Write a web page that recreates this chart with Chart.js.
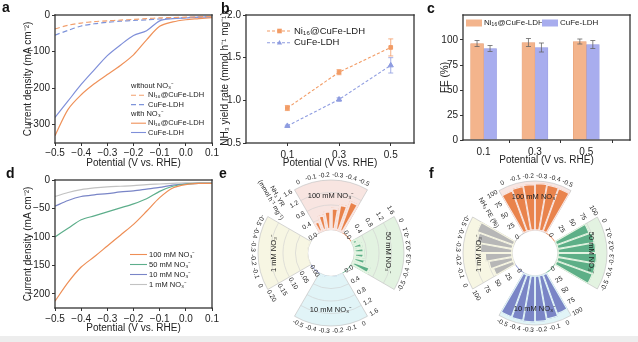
<!DOCTYPE html>
<html>
<head>
<meta charset="utf-8">
<title>Nitrate reduction on Ni@CuFe-LDH</title>
<script src="https://cdn.jsdelivr.net/npm/chart.js@4.4.1/dist/chart.umd.min.js"></script>
<style>
  body { margin: 0; width: 638px; height: 342px; position: relative; overflow: hidden; background: #fff; }
  canvas { position: absolute; }
  .tag { position: absolute; font: bold 14px "Liberation Sans", Arial, sans-serif; line-height: 14px; color: #111; }
  .strip { position: absolute; left: 0; top: 336px; width: 638px; height: 6px; background: #ededed; }
</style>
</head>
<body>
<canvas id="ca" width="222" height="170" style="left:0;top:0"></canvas>
<canvas id="cb" width="212" height="170" style="left:214px;top:0"></canvas>
<canvas id="cc" width="210" height="167" style="left:428px;top:0"></canvas>
<canvas id="cd" width="222" height="170" style="left:0;top:165px"></canvas>
<canvas id="ce" width="208" height="172" style="left:212px;top:165px"></canvas>
<canvas id="cf" width="214" height="172" style="left:424px;top:165px"></canvas>
<div class="tag" style="left:2px;top:0">a</div>
<div class="tag" style="left:221px;top:1px">b</div>
<div class="tag" style="left:427px;top:1px">c</div>
<div class="tag" style="left:6px;top:166px">d</div>
<div class="tag" style="left:219px;top:166px">e</div>
<div class="tag" style="left:429px;top:166px">f</div>
<div class="strip"></div>
<script>
var FONT = '"Liberation Sans", Arial, sans-serif';
var INK = '#222';

// LSV potentials (V vs. RHE), shared by panels a and d
var potLSV = [-0.5, -0.45, -0.4, -0.35, -0.3, -0.25, -0.2, -0.15, -0.1, -0.05, 0, 0.05, 0.1];
// panel a: current density (mA cm-2), without / with nitrate
var jNiBlank = [-38, -28, -22, -18, -16, -14, -12, -10, -8, -7, -6, -5, -4];
var jCuBlank = [-55, -42, -30, -24, -20, -17, -15, -13, -11, -9, -7, -6, -5];
var jNiNitrate = [-330, -258, -218, -188, -163, -138, -109, -68, -31, -19, -13, -10, -7];
var jCuNitrate = [-280, -235, -190, -150, -111, -82, -56, -43, -16, -10, -8, -6, -5];
// panel d: Ni@CuFe-LDH at four nitrate concentrations
var j100 = [-213, -180, -153, -135, -116, -97, -78, -55, -31, -14, -8, -6, -6];
var j50 = [-100, -85, -70, -63, -56, -49, -42, -33, -20, -11, -7, -6, -6];
var j10 = [-46, -36, -29, -26, -24, -21, -19, -16, -13, -9, -7, -6, -6];
var j1 = [-29, -22, -17, -14, -12, -11, -10, -8, -7, -6, -5, -5, -5];
var ticksLSV = [-0.5, -0.4, -0.3, -0.2, -0.1, 0, 0.1];
var ticksA = [0, -100, -200, -300];
var ticksD = [0, -50, -100, -150, -200];

// panels b and c
var potBulk = [0.1, 0.3, 0.5];
var yrNi = [0.91, 1.33, 1.62], yrNiErr = [0.03, 0.03, 0.10];
var yrCu = [0.70, 1.01, 1.41], yrCuErr = [0.01, 0.02, 0.09];
var feNi = [96.5, 97.5, 98.5], feNiErr = [3, 4, 2.5];
var feCu = [91.5, 92.5, 95.5], feCuErr = [3, 4.5, 4];
var ticksB = [0.5, 1.0, 1.5, 2.0];
var ticksC = [0, 25, 50, 75, 100];

// panels e and f: one wedge per nitrate level, bars from 0 to -0.5 V
var rosePot = ['0', '-0.1', '-0.2', '-0.3', '-0.4', '-0.5'];
var roseNames = ['100 mM NO₃⁻', '50 mM NO₃⁻', '10 mM NO₃⁻', '1 mM NO₃⁻'];
var yr100 = [0.38, 0.52, 0.62, 0.72, 0.86, 1.05];
var yr50 = [0.20, 0.30, 0.34, 0.34, 0.40, 0.62];
var yr10 = [0.02, 0.03, 0.03, 0.04, 0.05, 0.06];
var yr1 = [0.002, 0.003, 0.003, 0.004, 0.004, 0.005];
var fe100 = [89, 92, 94, 96, 95, 94];
var fe50 = [72, 77, 78, 80, 80, 79];
var fe10 = [86, 91, 94, 95, 94, 93];
var fe1 = [45, 50, 56, 66, 75, 80];
var yrRing = ['0.0', '0.4', '0.8', '1.2', '1.6'];
var yrRingLow = ['0.00', '0.05', '0.10', '0.15', '0.20'];
var feRing = ['0', '25', '50', '75', '100'];

var ORANGE = '#EF9159', BLUE = '#7F8FD9';
var TINTS = ['#F8E5E1', '#E3F3E1', '#E1F4F7', '#F7F6E3'];
var ROSE = ['#E9834C', '#5DAF87', '#7A85C6', '#B7B7B7'];

Chart.defaults.font.family = FONT;
Chart.defaults.font.size = 10;
Chart.defaults.color = INK;
Chart.defaults.animation = false;
Chart.defaults.events = [];
Chart.defaults.plugins.legend.display = false;
Chart.defaults.plugins.tooltip.enabled = false;

function pts(xs, ys) {
  return xs.map(function(x, i) { return {x: x, y: ys[i]}; });
}
function num(v, d) {
  return (v < 0 ? '−' : '') + Math.abs(v).toFixed(d);
}
function fixTicks(list) {
  return function(s) { s.ticks = list.map(function(v) { return {value: v}; }); };
}

function xAxis(min, max, ticks, pad) {
  return {
    type: 'linear', min: min, max: max, offset: false,
    afterBuildTicks: fixTicks(ticks),
    ticks: {callback: function(v) { return num(v, 1); }, maxRotation: 0, autoSkip: false, padding: pad},
    grid: {drawOnChartArea: false, tickLength: 3, color: '#333'},
    border: {display: false},
    title: {display: true, text: 'Potential (V vs. RHE)', padding: {top: 0, bottom: 1}},
    afterFit: function(s) { s.height = 27; }
  };
}
function yAxis(min, max, ticks, dec, title, width) {
  return {
    type: 'linear', min: min, max: max,
    afterBuildTicks: fixTicks(ticks),
    ticks: {callback: function(v) { return num(v, dec); }, padding: 2},
    grid: {drawOnChartArea: false, tickLength: 3, color: '#333'},
    border: {display: false},
    title: {display: true, text: title, padding: {top: 2, bottom: 0}},
    afterFit: function(s) { s.width = width; }
  };
}

// box around the plot area, drawn as four thin filled strips
var frame = {
  id: 'frame',
  afterDraw: function(chart) {
    var a = chart.chartArea, c = chart.ctx, w = 1.3;
    var l = Math.round(a.left), t = Math.round(a.top), r = Math.round(a.right), b = Math.round(a.bottom);
    c.save();
    c.fillStyle = '#333';
    c.fillRect(l - w / 2, t - w / 2, r - l + w, w);
    c.fillRect(l - w / 2, b - w / 2, r - l + w, w);
    c.fillRect(l - w / 2, t - w / 2, w, b - t + w);
    c.fillRect(r - w / 2, t - w / 2, w, b - t + w);
    c.restore();
  }
};

// error bars from dataset.errors
function errPlugin(color) {
  return {
    id: 'errs',
    afterDatasetsDraw: function(chart) {
      var c = chart.ctx;
      c.save();
      c.setLineDash([]);
      c.lineWidth = 0.8;
      chart.data.datasets.forEach(function(ds, di) {
        if (!ds.errors) return;
        var meta = chart.getDatasetMeta(di), ys = chart.scales[meta.yAxisID];
        c.strokeStyle = color || ds.borderColor;
        meta.data.forEach(function(el, i) {
          var v = ds.data[i].y, e = ds.errors[i];
          var t = ys.getPixelForValue(v + e), b = ys.getPixelForValue(v - e);
          c.beginPath();
          c.moveTo(el.x, t); c.lineTo(el.x, b);
          c.moveTo(el.x - 2.5, t); c.lineTo(el.x + 2.5, t);
          c.moveTo(el.x - 2.5, b); c.lineTo(el.x + 2.5, b);
          c.stroke();
        });
      });
      c.restore();
    }
  };
}

// in-plot key; rows with ds === null are plain headings
function keyPlugin(cfg) {
  return {
    id: 'key',
    afterDraw: function(chart) {
      var c = chart.ctx;
      c.save();
      c.font = cfg.size + 'px ' + FONT;
      c.textBaseline = 'middle';
      cfg.rows.forEach(function(row, i) {
        var x = cfg.x + (row.dx || 0), y = cfg.y + (row.dy !== undefined ? row.dy : i * cfg.gap);
        if (row.ds === null) {
          c.fillStyle = INK;
          c.fillText(row.text, x, y);
          return;
        }
        var ds = chart.data.datasets[row.ds];
        if (cfg.box) {
          c.fillStyle = ds.backgroundColor;
          c.fillRect(x, y - 3.5, cfg.len, 7);
        } else {
          c.strokeStyle = ds.borderColor;
          c.lineWidth = 1.1;
          c.setLineDash(ds.borderDash || []);
          c.beginPath(); c.moveTo(x, y); c.lineTo(x + cfg.len, y); c.stroke();
          c.setLineDash([]);
          if (ds.pointStyle) {
            var mx = x + cfg.len / 2;
            c.fillStyle = ds.borderColor;
            c.beginPath();
            if (ds.pointStyle === 'rect') c.rect(mx - 2.3, y - 2.3, 4.6, 4.6);
            else { c.moveTo(mx, y - 2.8); c.lineTo(mx + 2.6, y + 1.9); c.lineTo(mx - 2.6, y + 1.9); c.closePath(); }
            c.fill();
          }
        }
        c.fillStyle = INK;
        c.fillText(ds.label, x + cfg.len + 2, y);
      });
      c.restore();
    }
  };
}

// panel a
new Chart(document.getElementById('ca'), {
  type: 'line',
  data: {datasets: [
    {label: 'Ni₁₆@CuFe-LDH', data: pts(potLSV, jNiBlank), borderColor: '#F2A06E', borderDash: [5, 3]},
    {label: 'CuFe-LDH', data: pts(potLSV, jCuBlank), borderColor: '#7E94DA', borderDash: [5, 3]},
    {label: 'Ni₁₆@CuFe-LDH', data: pts(potLSV, jNiNitrate), borderColor: ORANGE},
    {label: 'CuFe-LDH', data: pts(potLSV, jCuNitrate), borderColor: BLUE}
  ]},
  options: {
    responsive: false,
    layout: {padding: {top: 15, right: 10, left: 20}},
    elements: {point: {radius: 0}, line: {borderWidth: 1.2, tension: 0.3}},
    scales: {
      x: xAxis(-0.5, 0.1, ticksLSV, 1),
      y: yAxis(-350, 0, ticksA, 0, 'Current density (mA cm⁻²)', 35)
    }
  },
  plugins: [frame, keyPlugin({x: 131, y: 86, gap: 9.3, len: 15, size: 7.5, rows: [
    {ds: null, text: 'without NO₃⁻'}, {ds: 0}, {ds: 1},
    {ds: null, text: 'with NO₃⁻'}, {ds: 2}, {ds: 3}
  ]})]
});

// panel b
new Chart(document.getElementById('cb'), {
  type: 'line',
  data: {datasets: [
    {label: 'Ni₁₆@CuFe-LDH', data: pts(potBulk, yrNi), errors: yrNiErr, borderColor: '#F29C66',
      backgroundColor: '#F29C66', pointStyle: 'rect', pointRadius: 2.6, borderDash: [3, 2]},
    {label: 'CuFe-LDH', data: pts(potBulk, yrCu), errors: yrCuErr, borderColor: '#8E9CE0',
      backgroundColor: '#8E9CE0', pointStyle: 'triangle', pointRadius: 3, borderDash: [3, 2]}
  ]},
  options: {
    responsive: false,
    layout: {padding: {top: 15, right: 12, left: 3}},
    elements: {line: {borderWidth: 1.1}},
    scales: {
      x: xAxis(-0.06, 0.59, potBulk, 3),
      y: yAxis(0.5, 2.0, ticksB, 1, 'NH₃ yield rate (mmol h⁻¹ mg⁻¹)', 29)
    }
  },
  plugins: [frame, errPlugin(), keyPlugin({x: 53, y: 31, gap: 11.7, len: 25, size: 9.5, rows: [{ds: 0}, {ds: 1}]})]
});

// panel c
new Chart(document.getElementById('cc'), {
  type: 'bar',
  data: {datasets: [
    {label: 'Ni₁₆@CuFe-LDH', data: pts(potBulk, feNi), errors: feNiErr, backgroundColor: '#F3B48C', borderColor: '#E6A27A'},
    {label: 'CuFe-LDH', data: pts(potBulk, feCu), errors: feCuErr, backgroundColor: '#A8ADEE', borderColor: '#989DE2'}
  ]},
  options: {
    responsive: false,
    layout: {padding: {top: 15, right: 8, left: 9}},
    datasets: {bar: {barThickness: 13, borderWidth: 0.6}},
    scales: {
      x: xAxis(0.02, 0.67, potBulk, 3),
      y: yAxis(0, 125, ticksC, 0, 'FE (%)', 26)
    }
  },
  plugins: [frame, errPlugin('#666'), keyPlugin({x: 38, y: 23, gap: 0, len: 16, size: 8, box: true, rows: [
    {ds: 0, dx: 0, dy: 0}, {ds: 1, dx: 76, dy: 0}
  ]})]
});

// panel d
new Chart(document.getElementById('cd'), {
  type: 'line',
  data: {datasets: [
    {label: '100 mM NO₃⁻', data: pts(potLSV, j100), borderColor: '#EE8E55'},
    {label: '50 mM NO₃⁻', data: pts(potLSV, j50), borderColor: '#5DAE8B'},
    {label: '10 mM NO₃⁻', data: pts(potLSV, j10), borderColor: '#7985C7'},
    {label: '1 mM NO₃⁻', data: pts(potLSV, j1), borderColor: '#C2C2C2'}
  ]},
  options: {
    responsive: false,
    layout: {padding: {top: 15, right: 10, left: 20}},
    elements: {point: {radius: 0}, line: {borderWidth: 1.2, tension: 0.3}},
    scales: {
      x: xAxis(-0.5, 0.1, ticksLSV, 2),
      y: yAxis(-225, 0, ticksD, 0, 'Current density (mA cm⁻²)', 35)
    }
  },
  plugins: [frame, keyPlugin({x: 130, y: 89.5, gap: 10, len: 17, size: 7.5, rows: [{ds: 0}, {ds: 1}, {ds: 2}, {ds: 3}]})]
});

// panels e and f
function ringData(groups, scl) {
  var out = [];
  groups.forEach(function(g, k) {
    g.forEach(function(v) { out.push(v * scl[k]); });
    out.push(0, 0, 0); // 30 degree gap before the next wedge
  });
  return out;
}
function ringLabels() {
  var out = [];
  roseNames.forEach(function(n) {
    rosePot.forEach(function(p) { out.push(n + ' ' + p); });
    out.push('', '', '');
  });
  return out;
}
function label(ctx, str, x, y, rot, size) {
  ctx.save();
  ctx.translate(x, y);
  ctx.rotate(rot);
  ctx.font = size + 'px ' + FONT;
  ctx.fillStyle = INK;
  ctx.textAlign = 'center';
  ctx.textBaseline = 'middle';
  ctx.fillText(str, 0, 0);
  ctx.restore();
}
function upright(a) {
  var T = Math.PI * 2;
  a = ((a % T) + T) % T;
  if (a > Math.PI / 2 && a <= Math.PI * 1.5) a -= Math.PI;
  return a;
}

function rosePlugin(cfg, scl) {
  function geo(chart) {
    var s = chart.scales.r;
    return {s: s, cx: s.xCenter, cy: s.yCenter, arcs: chart.getDatasetMeta(0).data,
      r0: s.getDistanceFromCenterForValue(0), r1: s.getDistanceFromCenterForValue(cfg.max)};
  }
  return {
    id: 'rose',
    afterDatasetsUpdate: function(chart) {
      var g = geo(chart);
      g.arcs.forEach(function(el) { el.innerRadius = g.r0; });
    },
    beforeDatasetsDraw: function(chart) {
      var g = geo(chart), ctx = chart.ctx;
      ctx.save();
      for (var k = 0; k < 4; k++) {
        var a0 = g.arcs[k * 9].startAngle, a1 = g.arcs[k * 9 + 5].endAngle;
        ctx.beginPath();
        ctx.arc(g.cx, g.cy, g.r1, a0, a1);
        ctx.arc(g.cx, g.cy, g.r0, a1, a0, true);
        ctx.closePath();
        ctx.fillStyle = TINTS[k];
        ctx.fill();
        ctx.strokeStyle = '#c4c4c4';
        ctx.lineWidth = 0.7;
        ctx.stroke();
        ctx.strokeStyle = '#cfcfcf';
        ctx.lineWidth = 0.6;
        cfg.rings[k].slice(1, -1).forEach(function(t) {
          var r = g.s.getDistanceFromCenterForValue(parseFloat(t) * scl[k]);
          ctx.beginPath();
          ctx.arc(g.cx, g.cy, r, a0, a1);
          ctx.stroke();
        });
      }
      ctx.restore();
    },
    afterDatasetsDraw: function(chart) {
      var g = geo(chart), ctx = chart.ctx, H = Math.PI / 2;
      for (var k = 0; k < 4; k++) {
        var first = g.arcs[k * 9], last = g.arcs[k * 9 + 5];
        for (var i = 0; i < 6; i++) {
          var el = g.arcs[k * 9 + i], m = (el.startAngle + el.endAngle) / 2, rr = g.r1 + 5;
          label(ctx, rosePot[i], g.cx + rr * Math.cos(m), g.cy + rr * Math.sin(m), k === 0 ? m + H : m - H, 6.5);
        }
        var a0 = first.startAngle, ox = 7.5 * Math.cos(a0 - H), oy = 7.5 * Math.sin(a0 - H);
        cfg.rings[k].forEach(function(t) {
          var r = g.s.getDistanceFromCenterForValue(parseFloat(t) * scl[k]);
          label(ctx, t, g.cx + r * Math.cos(a0) + ox, g.cy + r * Math.sin(a0) + oy, upright(a0 + H), 6.5);
        });
        var am = (first.startAngle + last.endAngle) / 2, rn = g.r0 + 0.68 * (g.r1 - g.r0);
        label(ctx, roseNames[k], g.cx + rn * Math.cos(am), g.cy + rn * Math.sin(am), [0, H, 0, -H][k], 7.5);
      }
      // axis title, parallel to the leading edge of the top wedge
      var e0 = g.arcs[0].startAngle, rot = upright(e0);
      var tx = g.cx + cfg.titleAt[0] * Math.cos(e0) + cfg.titleAt[1] * Math.cos(e0 - H);
      var ty = g.cy + cfg.titleAt[0] * Math.sin(e0) + cfg.titleAt[1] * Math.sin(e0 - H);
      cfg.title.forEach(function(line, j) {
        var off = (j - (cfg.title.length - 1) / 2) * 7.5;
        label(ctx, line, tx - off * Math.sin(rot), ty + off * Math.cos(rot), rot, 6.5);
      });
    }
  };
}

function roseChart(id, cfg) {
  var scl = cfg.rings.map(function(r) { return cfg.max / parseFloat(r[r.length - 1]); });
  return new Chart(document.getElementById(id), {
    type: 'polarArea',
    data: {
      labels: ringLabels(),
      datasets: [{
        data: ringData(cfg.groups, scl),
        backgroundColor: function(c) { return ROSE[Math.floor(c.dataIndex / 9)]; },
        borderColor: function(c) { return TINTS[Math.floor(c.dataIndex / 9)]; },
        borderWidth: function(c) { return c.dataIndex % 9 < 6 ? cfg.gap : 0; },
        borderAlign: 'inner'
      }]
    },
    options: {
      responsive: false,
      layout: {padding: cfg.pad},
      scales: {r: {display: false, min: cfg.min, max: cfg.max, beginAtZero: false, startAngle: -30}}
    },
    plugins: [rosePlugin(cfg, scl)]
  });
}

roseChart('ce', {
  groups: [yr100, yr50, yr10, yr1],
  rings: [yrRing, yrRing, yrRing, yrRingLow],
  min: -0.74, max: 1.6, gap: 1.8,
  pad: {left: 46.7, top: 15.5, right: 15.3, bottom: 10.5},
  title: ['NH₃ YR', '(mmol h⁻¹ mg⁻¹)'], titleAt: [76, 22]
});
roseChart('cf', {
  groups: [fe100, fe50, fe10, fe1],
  rings: [feRing, feRing, feRing, feRing],
  min: -46, max: 100, gap: 0.9,
  pad: {left: 39.5, top: 16.5, right: 30.5, bottom: 11.5},
  title: ['NH₃ FE (%)'], titleAt: [58, 20]
});
</script>
</body>
</html>
